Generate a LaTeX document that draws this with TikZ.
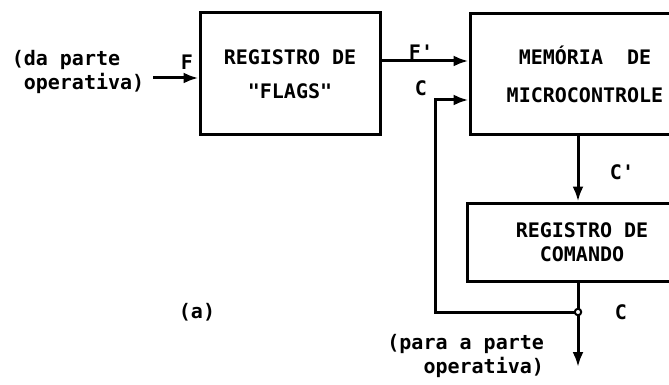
\documentclass[tikz,border=0pt]{standalone}
\usepackage{fontspec}
\setmonofont{DejaVu Sans Mono}
\usetikzlibrary{arrows.meta}

\begin{document}
\begin{tikzpicture}
      [x=.5pt,y=-.5pt
      ,every node/.style={font=\ttfamily\bfseries\fontsize{10}{12}\selectfont}
      ,blk/.style={draw,line width=1.5pt,inner sep=0pt,align=center}
      ,wire/.style={line width=1.5pt}
      ,sig/.style={wire,-{Latex[length=7.5pt,width=5.5pt]}}
      ]
        \clip (0,0) rectangle (669,385);

        % the three blocks (the two on the right run off the page)
        \node[blk,minimum width=90pt,minimum height=61pt] (flags) at (290,74)
            {REGISTRO DE\\[5pt]"FLAGS"};
        \node[blk,minimum width=115pt,minimum height=60.5pt] (mem) at (585,74)
            {MEMÓRIA\ \ DE\\[7pt]MICROCONTROLE};
        \node[blk,minimum width=115pt,minimum height=39pt] (cmd) at (582,242)
            {REGISTRO DE\\COMANDO};

        \coordinate (j) at (578,312);
        \coordinate (ret) at (435,312);
        \coordinate (out) at (578,367);

        % labels
        \node[align=left] (src) at (78,72) {(da parte\\\hphantom{(}operativa)};
        \node[align=right,anchor=east] (dst) at (551,356) {(para a parte\\operativa)};
        \node (lf) at (187,62) {F};
        \node (lf2) at (421,52) {F'};
        \node (lc) at (421,88) {C};
        \node (lc2) at (622,172) {C'};
        \node (lc3) at (621,312) {C};
        \node (lbla) at (197,312) {(a)};

        % signals
        \draw[sig] (src.east |- flags.west) ++(2,4) -- ([yshift=-2pt]flags.west);
        \draw[sig] ([yshift=6.5pt]flags.east) -- ([yshift=6.5pt]mem.west);
        \draw[sig] (mem.south -| j) -- (cmd.north -| j);
        \draw[wire] (cmd.south -| j) -- (j);
        \draw[sig] (j) -- (ret) |- ([yshift=-13pt]mem.west);
        \draw[sig] (j) -- (out);
        \draw[line width=1pt,fill=white] (j) circle[radius=1.6pt];

\end{tikzpicture}
\end{document}
